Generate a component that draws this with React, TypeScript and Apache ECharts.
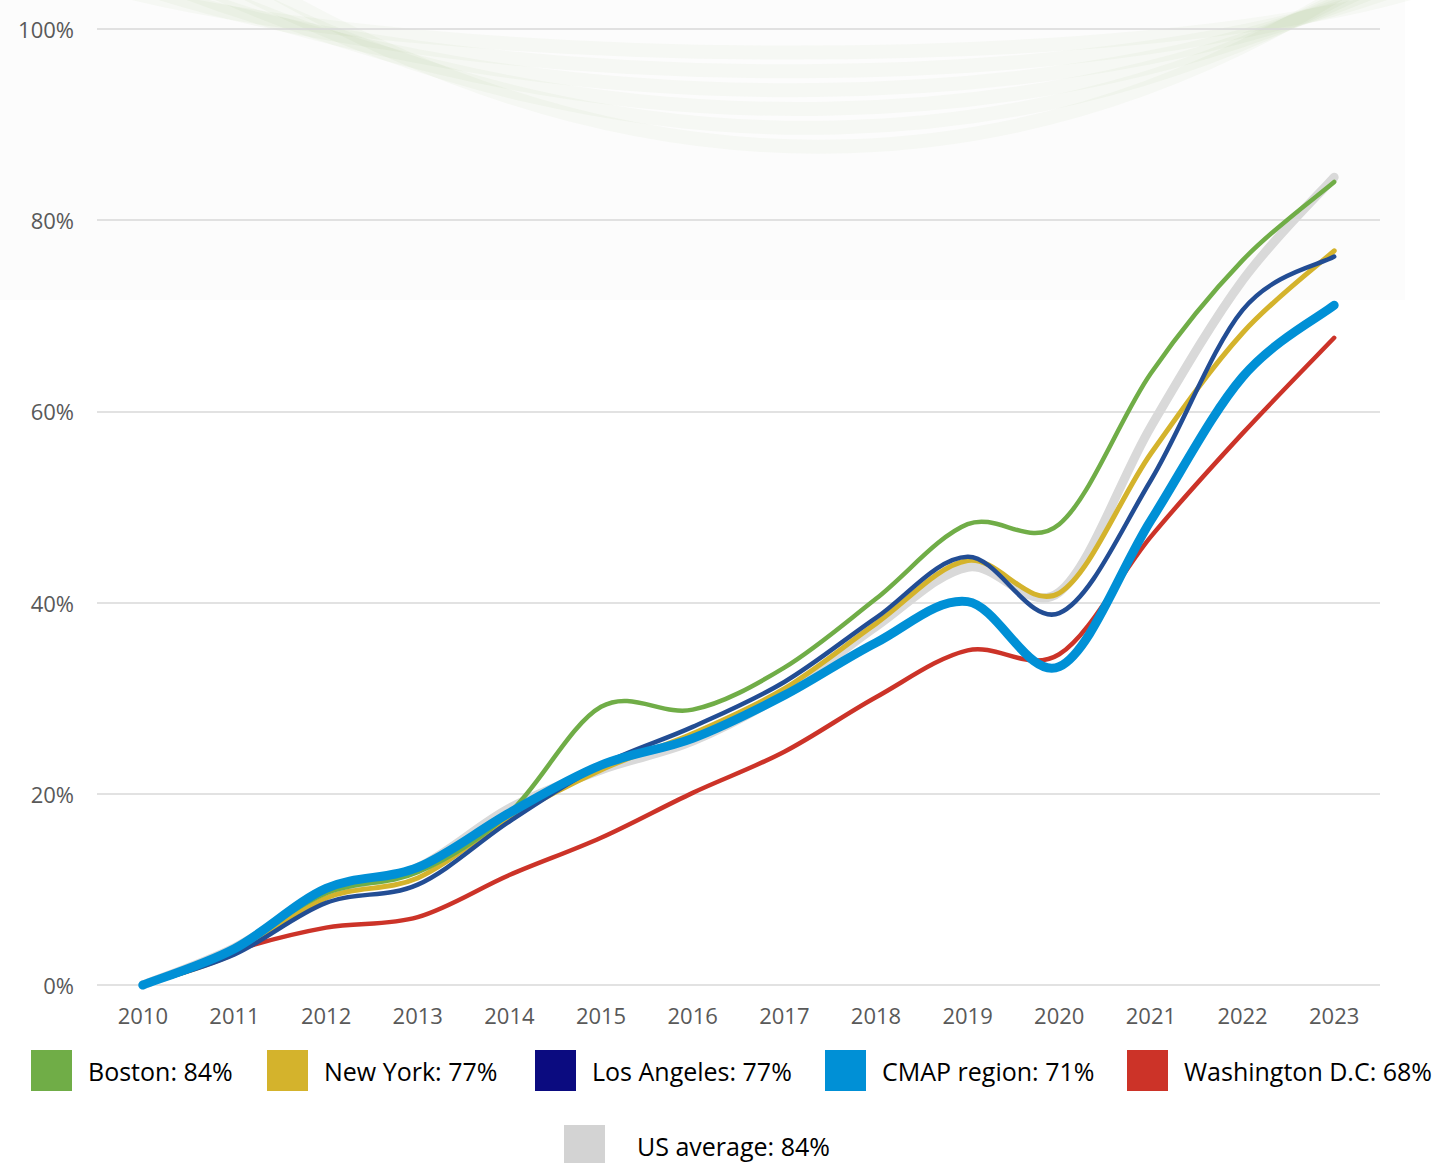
import React, { useEffect, useRef } from "react";
import * as echarts from "echarts";

const years = ["2010","2011","2012","2013","2014","2015","2016","2017","2018","2019","2020","2021","2022","2023"];
const boston = [0, 3.9, 9.6, 11.8, 18.0, 29.1, 28.8, 33.2, 40.4, 48.2, 48.2, 64.0, 75.8, 84.0];
const newYork = [0, 3.3, 9.1, 11.2, 17.5, 22.5, 26.3, 31.0, 37.8, 44.4, 41.0, 55.6, 68.2, 76.8];
const losAngeles = [0, 3.2, 8.6, 10.5, 17.1, 23.0, 27.0, 31.7, 38.4, 44.8, 38.9, 52.8, 70.6, 76.2];
const cmap = [0, 3.8, 10.1, 12.3, 18.0, 23.0, 25.8, 30.3, 35.8, 40.1, 33.3, 48.6, 63.6, 71.1];
const washington = [0, 3.6, 6.0, 7.1, 11.5, 15.4, 20.1, 24.4, 30.1, 35.0, 34.6, 46.9, 57.7, 67.7];
const usAverage = [0, 3.9, 9.6, 12.3, 18.5, 22.5, 25.5, 30.5, 37.5, 43.7, 41.1, 58.4, 73.7, 84.5];

const legendNames = ["Boston: 84%", "New York: 77%", "Los Angeles: 77%", "CMAP region: 71%", "Washington D.C: 68%", "US average: 84%"];

function catmullPath(pts: number[][]): string {
  let d = `M${pts[0][0]},${pts[0][1]}`;
  for (let i = 0; i < pts.length - 1; i++) {
    const p0 = pts[i - 1] || pts[i];
    const p1 = pts[i];
    const p2 = pts[i + 1];
    const p3 = pts[i + 2] || pts[i + 1];
    const c1x = p1[0] + (p2[0] - p0[0]) / 6;
    const c1y = p1[1] + (p2[1] - p0[1]) / 6;
    const c2x = p2[0] - (p3[0] - p1[0]) / 6;
    const c2y = p2[1] - (p3[1] - p1[1]) / 6;
    d += ` C${c1x},${c1y} ${c2x},${c2y} ${p2[0]},${p2[1]}`;
  }
  return d;
}

export default function App() {
  const ref = useRef<HTMLDivElement>(null);
  useEffect(() => {
    document.body.style.margin = "0";
    const chart = echarts.init(ref.current!, null, { renderer: "svg" });
    const mk = (name: string, values: number[], color: string, width: number) => ({
      name,
      type: "custom",
      data: values.map((v, i) => [i, v]),
      encode: { x: 0, y: 1 },
      itemStyle: { color },
      renderItem: (params: any, api: any) => {
        if (params.dataIndex !== 0) return null;
        const pts = values.map((v, i) => api.coord([i, v]));
        return {
          type: "path",
          shape: { pathData: catmullPath(pts) },
          style: { stroke: color, lineWidth: width, fill: "none", lineCap: "round", lineJoin: "round" },
        };
      },
    });
    const mkLegend = (name: string, left: number, top: number, color: string, gap: number) => ({
      left,
      top,
      padding: 0,
      itemWidth: 41,
      itemHeight: 41,
      icon: "rect",
      selectedMode: false,
      textStyle: { fontFamily: "Open Sans, Roboto, sans-serif", fontSize: 25, color: "#000", padding: [0, 0, 0, gap] },
      data: [{ name, itemStyle: { color } }],
    });
    const waves: any[] = [];
    const waveBottoms = [45, 65, 85, 105, 125, 145];
    waveBottoms.forEach((b, k) => {
      const cp = (b + 10) / 0.75;
      waves.push({
        type: "bezierCurve",
        silent: true,
        z: -10,
        shape: { x1: 120 + k * 30, y1: -10, cpx1: 450 + k * 40, cpy1: cp, cpx2: 1150 - k * 20, cpy2: cp, x2: 1420, y2: -10 - k * 10 },
        style: { stroke: "rgba(112,173,71,0.045)", lineWidth: 14, fill: null },
      });
    });
    chart.setOption({
      animation: false,
      backgroundColor: "#ffffff",
      graphic: [
        { type: "rect", silent: true, z: -20, shape: { x: 0, y: 0, width: 1405, height: 300 }, style: { fill: "#fcfcfc" } },
        ...waves,
      ],
      grid: { left: 97, right: 59, top: 29, bottom: 178 },
      xAxis: {
        type: "category",
        data: years,
        boundaryGap: true,
        axisLine: { show: false },
        axisTick: { show: false },
        axisLabel: { color: "#595959", fontSize: 22, margin: 19, fontFamily: "Open Sans, Roboto, sans-serif" },
      },
      yAxis: {
        type: "value",
        min: 0,
        max: 100,
        interval: 20,
        axisLine: { show: false },
        axisTick: { show: false },
        splitLine: { lineStyle: { color: "#d9d9d9", width: 1.5 } },
        axisLabel: { formatter: "{value}%", color: "#595959", fontSize: 22, margin: 23, fontFamily: "Open Sans, Roboto, sans-serif" },
      },
      legend: [
        mkLegend(legendNames[0], 31, 1050, "#70ad47", 11),
        mkLegend(legendNames[1], 267, 1050, "#d4b32c", 11),
        mkLegend(legendNames[2], 535, 1050, "#0b0b80", 11),
        mkLegend(legendNames[3], 825, 1050, "#0090d6", 11),
        mkLegend(legendNames[4], 1127, 1050, "#cc3328", 11),
        mkLegend(legendNames[5], 564, 1125, "#d3d3d3", 27),
      ],
      series: [
        mk(legendNames[5], usAverage, "#d9d9d9", 9),
        mk(legendNames[4], washington, "#cc3328", 4.5),
        mk(legendNames[1], newYork, "#d4b32c", 5),
        mk(legendNames[2], losAngeles, "#224d94", 4.5),
        mk(legendNames[0], boston, "#70ad47", 4.5),
        mk(legendNames[3], cmap, "#0090d6", 9),
      ],
    });
    return () => chart.dispose();
  }, []);
  return <div ref={ref} style={{ width: 1439, height: 1163 }} />;
}
